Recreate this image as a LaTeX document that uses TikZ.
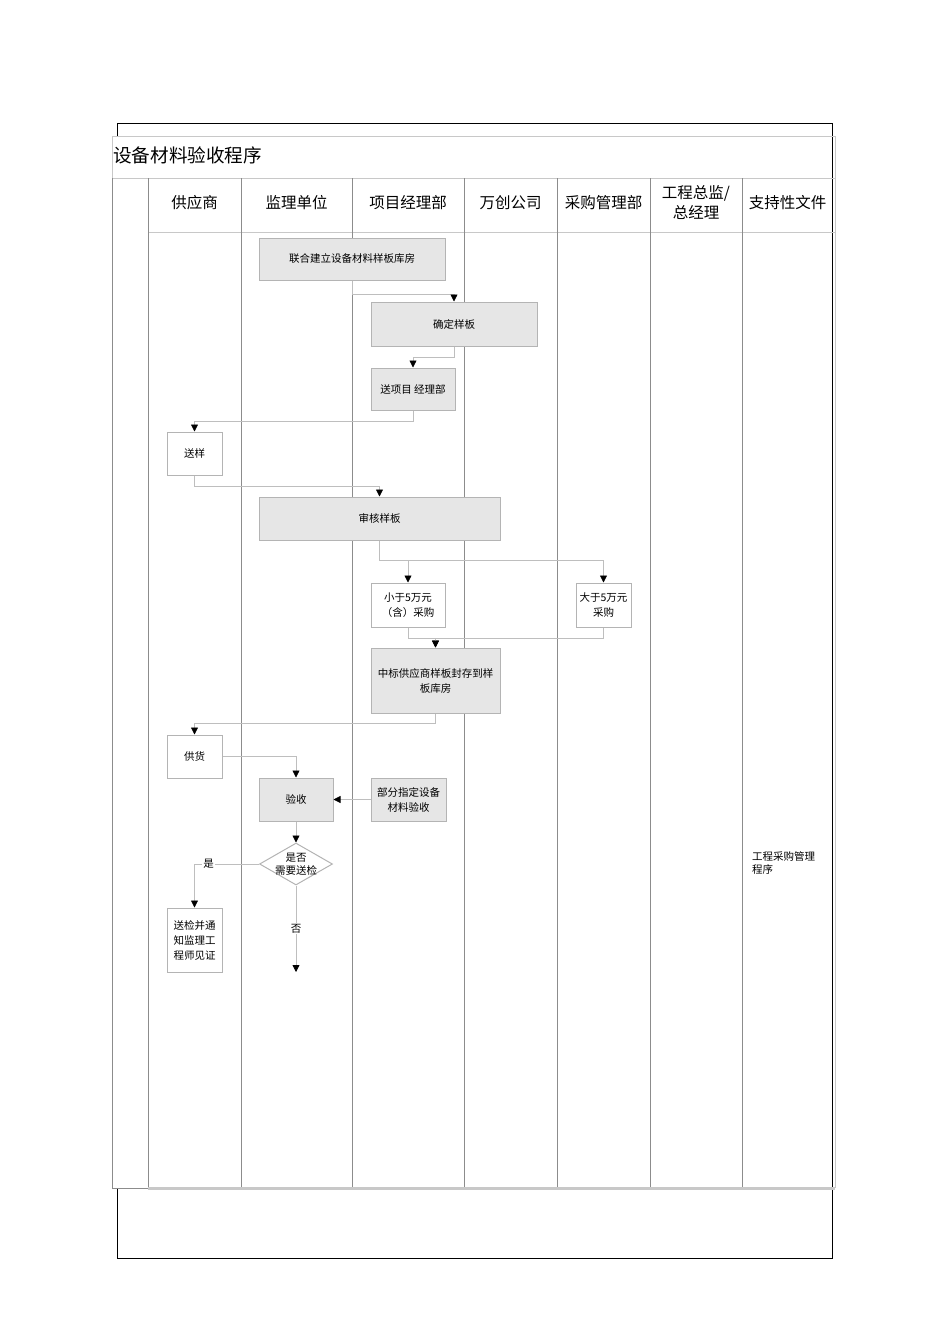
\documentclass[tikz,border=0pt]{standalone}
\usepackage{fontspec}
\setmainfont{Noto Sans CJK SC}
\usetikzlibrary{shapes.geometric,arrows.meta,positioning}

\definecolor{laneline}{RGB}{140,140,140}
\definecolor{tableline}{RGB}{200,200,200}
\definecolor{flowline}{RGB}{190,190,190}
\definecolor{boxfill}{RGB}{230,230,230}
\definecolor{boxline}{RGB}{180,180,180}

\tikzset{
  task/.style={draw=boxline,line width=1pt,fill=boxfill,inner sep=0pt,align=center,
               font=\fontsize{10.5}{15}\selectfont},
  plain task/.style={task,fill=white},
  decision/.style={diamond,draw=boxline,line width=1pt,fill=white,inner sep=0pt,
                   minimum width=73pt,minimum height=42pt},
  flow/.style={draw=flowline,line width=0.8pt,-{Triangle[length=7pt,width=7pt,color=black]}},
  lane/.style={draw=laneline,line width=0.8pt},
  grid line/.style={draw=tableline,line width=1pt},
  head/.style={font=\fontsize{15.5}{20}\selectfont,align=center,inner sep=0pt},
  flow label/.style={fill=white,inner sep=1pt,font=\fontsize{10.5}{13}\selectfont}
}

\begin{document}
\begin{tikzpicture}[x=1pt,y=-1pt]
  \useasboundingbox (0,0) rectangle (950,1344);

  \draw[black,line width=1pt] (117,136) -- (117,123) -- (832,123) -- (832,1258)
        -- (117,1258) -- (117,1188);
  \draw[grid line] (112,136) rectangle (835,178);
  \draw[grid line] (148,232) -- (835,232);
  \draw[grid line] (835,178) -- (835,1188);
  \draw[lane] (112,178) -- (112,1188);
  \foreach \x in {148,241,352,464,557,650,742}
    \draw[lane] (\x,178) -- (\x,1188);
  \draw[tableline,line width=3pt] (148,1188) -- (835,1188);
  \draw[laneline,line width=1pt] (112,1188) -- (148,1188);

  \node (title)
        [anchor=west,inner sep=0pt,font=\fontsize{18.6}{20}\selectfont]
        at (113,155)
        {设备材料验收程序};

  \node (hSupplier) [head] at (194.5,203) {供应商};
  \node (hSupervisor) [head] at (296.5,203) {监理单位};
  \node (hProject) [head] at (408,203) {项目经理部};
  \node (hCompany) [head] at (510.5,203) {万创公司};
  \node (hPurchase) [head] at (603.5,203) {采购管理部};
  \node (hDirector) [head] at (696,203) {工程总监/\\总经理};
  \node (hDocs) [head] at (787.5,203) {支持性文件};

  \node (build)
        [task,minimum width=186pt,minimum height=42pt]
        at (352,259)
        {联合建立设备材料样板库房};
  \node (confirm)
        [task,minimum width=166pt,minimum height=44pt]
        at (454,324)
        {确定样板};
  \node (sendPM)
        [task,minimum width=84pt,minimum height=42pt]
        at (413,389)
        {送项目 经理部};
  \node (sample)
        [plain task,minimum width=55pt,minimum height=43pt]
        at (194.5,453.5)
        {送样};
  \node (review)
        [task,minimum width=241pt,minimum height=43pt]
        at (379.5,518.5)
        {审核样板};
  \node (small)
        [plain task,minimum width=74pt,minimum height=44pt]
        at (408,605)
        {小于5万元\\（含）采购};
  \node (large)
        [plain task,minimum width=55pt,minimum height=44pt]
        at (603.5,605)
        {大于5万元\\采购};
  \node (seal)
        [task,minimum width=129pt,minimum height=65pt]
        at (435.5,680.5)
        {中标供应商样板封存到样\\板库房};
  \node (supply)
        [plain task,minimum width=55pt,minimum height=43pt]
        at (194.5,756.5)
        {供货};
  \node (accept)
        [task,minimum width=74pt,minimum height=43pt]
        at (296,799.5)
        {验收};
  \node (partial)
        [task,minimum width=75pt,minimum height=43pt]
        at (408.5,799.5)
        {部分指定设备\\材料验收};
  \node (check)
        [decision,label={[align=center,font=\fontsize{10.5}{13}\selectfont]center:是否\\需要送检}]
        at (296,864)
        {};
  \node (inspect)
        [plain task,minimum width=55pt,minimum height=64pt]
        at (194.5,940)
        {送检并通\\知监理工\\程师见证};
  \coordinate (noCheck) at (296,972);
  \node (docRef)
        [anchor=north west,align=left,inner sep=0pt,font=\fontsize{10.5}{13}\selectfont]
        at (752,851)
        {工程采购管理\\程序};

  \draw[flow] (build.south) -- ++(0,14) -| (confirm.north);
  \draw[flow] (confirm.south) -- ++(0,11) -| (sendPM.north);
  \draw[flow] (sendPM.south) -- ++(0,11) -| (sample.north);
  \draw[flow] (sample.south) -- ++(0,11) -| (review.north);
  \draw[flow] (review.south) -- ++(0,20) -| (small.north);
  \draw[flow] (review.south) -- ++(0,20) -| (large.north);
  \draw[flow] (small.south) -- ++(0,11) -| (seal.north);
  \draw[flow] (large.south) -- ++(0,11) -| (seal.north);
  \draw[flow] (seal.south) -- ++(0,10) -| (supply.north);
  \draw[flow] (supply.east) -| (accept.north);
  \draw[flow] (partial.west) -- (accept.east);
  \draw[flow] (accept.south) -- (check.north);
  \draw[flow] (check.west) -| node[flow label,pos=0.39] {是} (inspect.north);
  \draw[flow] (check.south) -- node[flow label] {否} (noCheck);
\end{tikzpicture}
\end{document}
